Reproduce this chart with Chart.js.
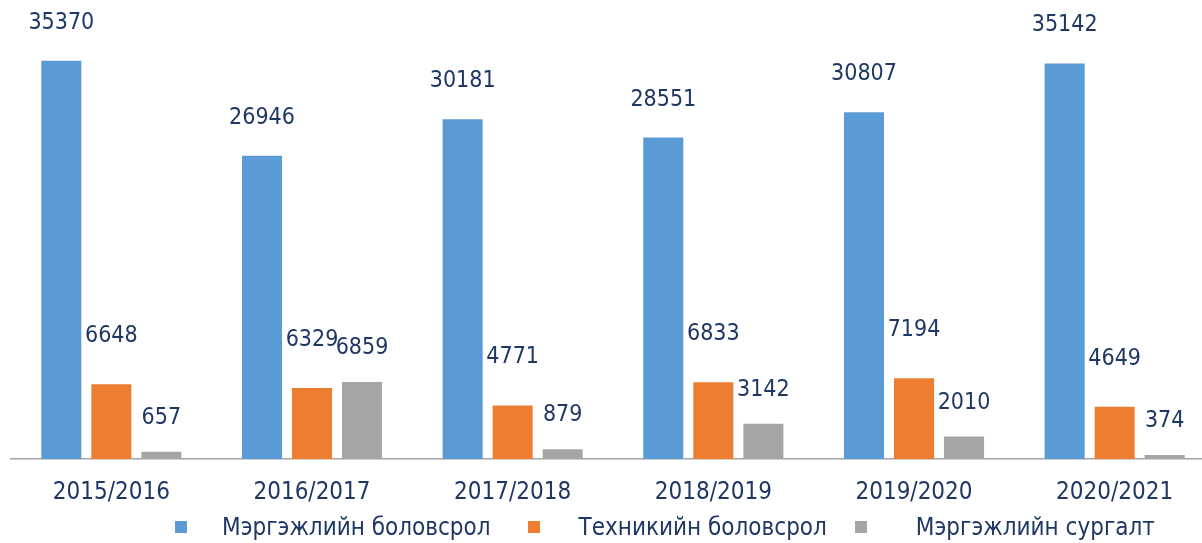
<!DOCTYPE html>
<html>
<head>
<meta charset="utf-8">
<script src="https://cdn.jsdelivr.net/npm/chart.js@4"></script>
<style>
  html, body { margin: 0; padding: 0; background: #fff; }
  #wrap { position: relative; width: 1202px; height: 543px; overflow: hidden; }
  #chart { position: absolute; left: 0; top: 0; }
  #legend { position: absolute; left: 175px; top: 513px; display: flex; align-items: center;
            font-family: 'DejaVu Sans Condensed', 'DejaVu Sans', sans-serif; font-size: 24px; color: #1F3763; white-space: nowrap; }
  #legend .item { display: flex; align-items: center; }
  #legend .box { width: 12px; height: 12px; }
  #legend .item:nth-child(1) { margin-right: 37px; }
  #legend .item:nth-child(2) { margin-right: 28px; }
  #legend .item:nth-child(1) .box { margin-right: 35px; }
  #legend .item:nth-child(2) .box { margin-right: 39px; }
  #legend .item:nth-child(3) .box { margin-right: 49px; }
</style>
</head>
<body>
<div id="wrap">
  <canvas id="chart" width="1216" height="526"></canvas>
  <div id="legend"></div>
</div>
<script>
const categories = ['2015/2016', '2016/2017', '2017/2018', '2018/2019', '2019/2020', '2020/2021'];
const vocEducation = [35370, 26946, 30181, 28551, 30807, 35142];
const techEducation = [6648, 6329, 4771, 6833, 7194, 4649];
const vocTraining = [657, 6859, 879, 3142, 2010, 374];
const seriesNames = ['Мэргэжлийн боловсрол', 'Техникийн боловсрол', 'Мэргэжлийн сургалт'];

const textColor = '#1F3763';
const fontFamily = "'DejaVu Sans Condensed', 'DejaVu Sans', sans-serif";

// value labels above each bar
const barLabels = {
    id: 'barLabels',
    afterDatasetsDraw(chart, args, opts) {
        const ctx = chart.ctx;
        ctx.save();
        ctx.font = `23px ${fontFamily}`;
        ctx.fillStyle = textColor;
        ctx.textAlign = 'center';
        ctx.textBaseline = 'middle';
        chart.data.datasets.forEach((ds, i) => {
            const meta = chart.getDatasetMeta(i);
            meta.data.forEach((bar, j) => {
                ctx.fillText(String(ds.data[j]), bar.x, bar.y - opts.lift[i]);
            });
        });
        ctx.restore();
    }
};

const chart = new Chart(document.getElementById('chart'), {
    type: 'bar',
    data: {
        labels: categories,
        datasets: [
            { label: seriesNames[0], data: vocEducation, backgroundColor: '#5B9BD5' },
            { label: seriesNames[1], data: techEducation, backgroundColor: '#ED7D31' },
            { label: seriesNames[2], data: vocTraining, backgroundColor: '#A5A5A5' }
        ]
    },
    options: {
        responsive: false,
        animation: false,
        layout: { padding: { left: 11, right: 1, top: 0, bottom: 0 } },
        datasets: { bar: { barPercentage: 0.8, categoryPercentage: 0.748 } },
        plugins: {
            legend: { display: false },
            tooltip: { enabled: false },
            barLabels: { lift: [38, 48, 34] }
        },
        scales: {
            x: {
                grid: { display: false, drawTicks: false },
                border: { display: true, color: '#A6A6A6', width: 1.5 },
                ticks: { color: textColor, font: { family: fontFamily, size: 24 }, padding: 19, maxRotation: 0 }
            },
            y: { display: false, min: 0, max: 40770 }
        }
    },
    plugins: [barLabels]
});

// legend
const legend = document.getElementById('legend');
legend.innerHTML = chart.data.datasets.map(ds =>
    `<div class="item"><div class="box" style="background:${ds.backgroundColor}"></div><span>${ds.label}</span></div>`).join('');
</script>
</body>
</html>
